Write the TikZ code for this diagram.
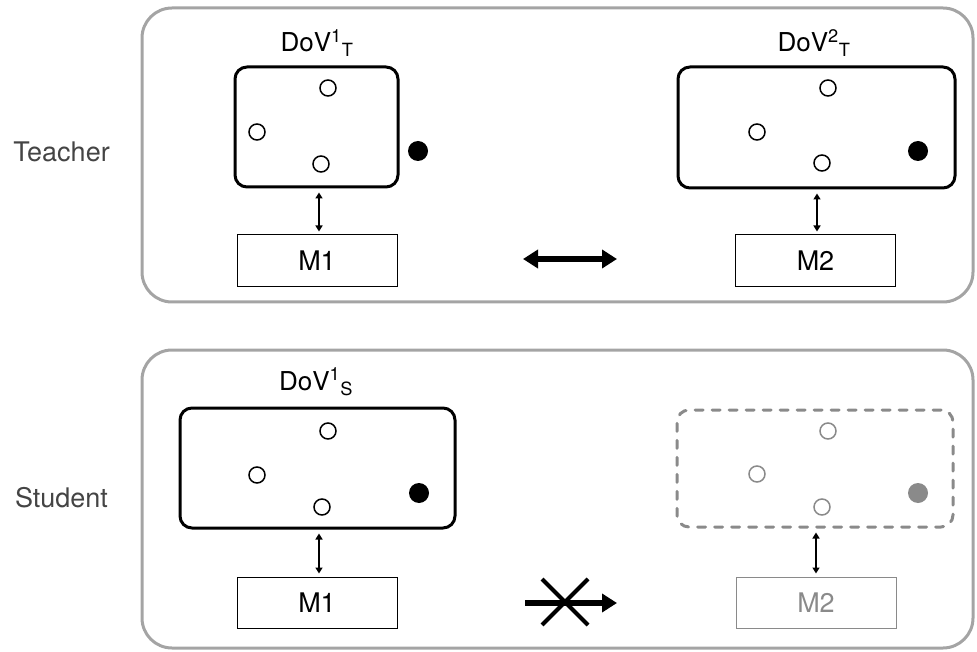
\documentclass[tikz,border=0pt]{standalone}
\usepackage{fontspec}
\setmainfont{TeX Gyre Heros}
\usetikzlibrary{arrows.meta}
\definecolor{panelgray}{HTML}{A4A4A4}
\definecolor{ghost}{HTML}{8A8A8A}
\definecolor{labelgray}{HTML}{444444}
\tikzset{
  panel/.style={draw=panelgray, line width=3pt, rounded corners=30pt, rectangle},
  dovbox/.style={draw, line width=3pt, rounded corners=12pt, rectangle},
  ghostbox/.style={draw=ghost, line width=3pt, rounded corners=12pt, rectangle,
    dash pattern=on 8pt off 9pt, line cap=round},
  mbox/.style={draw, line width=1pt, rectangle, minimum width=160pt, minimum height=52pt,
    font=\fontsize{27}{32}\selectfont},
  sample/.style={circle, draw, line width=1.5pt, minimum size=16pt, inner sep=0pt},
  outlier/.style={circle, fill, minimum size=20pt, inner sep=0pt},
  vlink/.style={line width=1.6pt, {Triangle[length=6pt,width=7pt]}-{Triangle[length=6pt,width=7pt]},
    shorten <=4pt, shorten >=3pt},
  hlink/.style={line width=5.5pt, {Triangle[length=15pt,width=18pt]}-{Triangle[length=15pt,width=18pt]}},
  nolink/.style={line width=5.5pt, -{Triangle[length=15pt,width=18pt]}},
  cross/.style={line width=4pt},
  rolelabel/.style={text=labelgray, font=\fontsize{27}{32}\selectfont, anchor=base, inner sep=0pt},
  dovlabel/.style={font=\fontsize{26}{31}\selectfont, anchor=base, inner sep=0pt},
}
\newcommand{\dovname}[2]{DoV\textsuperscript{#1}\textsubscript{#2}}
\begin{document}
\begin{tikzpicture}[x=1pt,y=-1pt]
\path[use as bounding box] (0,0) rectangle (977,652);

% panels
\node[panel, minimum width=831pt, minimum height=294pt] (tpanel) at (557.5,155) {};
\node[panel, minimum width=831pt, minimum height=298pt] (spanel) at (557.5,499) {};

% role labels
\node[rolelabel] (tlabel) at (61.5,162) {Teacher};
\node[rolelabel] (slabel) at (61.5,507) {Student};

% ---------- teacher ----------
\node[dovbox, minimum width=163pt, minimum height=120pt] (dovt1) at (316.5,127) {};
\node[dovlabel] (dovt1lab) at (317,52) {\dovname{1}{T}};
\node[sample] (t1a) at (328,88) {};
\node[sample] (t1b) at (257,132) {};
\node[sample] (t1c) at (321,164) {};
\node[outlier] (t1d) at (418,151) {};
\node[mbox] (mt1) at (317,261) {M1};
\draw[vlink] (dovt1.south -| 319,0) -- (mt1.north -| 319,0);

\node[dovbox, minimum width=277pt, minimum height=121pt] (dovt2) at (816.5,127.5) {};
\node[dovlabel] (dovt2lab) at (814,52) {\dovname{2}{T}};
\node[sample] (t2a) at (828,88) {};
\node[sample] (t2b) at (757,132) {};
\node[sample] (t2c) at (822,163) {};
\node[outlier] (t2d) at (918,151) {};
\node[mbox] (mt2) at (815.5,261) {M2};
\draw[vlink] (dovt2.south -| 817,0) -- (mt2.north -| 817,0);

\coordinate (tl) at (523,259);
\coordinate (tr) at (617,259);
\draw[hlink] (tl) -- (tr);

% ---------- student ----------
\node[dovbox, minimum width=275pt, minimum height=120pt] (dovs1) at (317.5,468) {};
\node[dovlabel] (dovs1lab) at (316,390) {\dovname{1}{S}};
\node[sample] (s1a) at (328,431) {};
\node[sample] (s1b) at (257,475) {};
\node[sample] (s1c) at (322,507) {};
\node[outlier] (s1d) at (419,493) {};
\node[mbox, minimum height=51pt] (ms1) at (317,602.5) {M1};
\draw[vlink] (dovs1.south -| 319,0) -- (ms1.north -| 319,0);

\node[ghostbox, minimum width=276pt, minimum height=117pt] (dovs2) at (815,468.5) {};
\node[sample, draw=ghost] (s2a) at (828,431) {};
\node[sample, draw=ghost] (s2b) at (757,474) {};
\node[sample, draw=ghost] (s2c) at (822,507) {};
\node[outlier, fill=ghost] (s2d) at (918,493) {};
\node[mbox, draw=ghost, text=ghost, minimum height=51pt] (ms2) at (816,602.5) {M2};
\draw[vlink] (dovs2.south -| 816,0) -- (ms2.north -| 816,0);

\coordinate (sl) at (525,603);
\coordinate (sr) at (617,603);
\draw[nolink] (sl) -- (sr);
\coordinate (xa) at (542,579);
\coordinate (xb) at (588,625);
\coordinate (xc) at (588,579);
\coordinate (xd) at (542,625);
\draw[cross] (xa) -- (xb);
\draw[cross] (xc) -- (xd);
\end{tikzpicture}
\end{document}
